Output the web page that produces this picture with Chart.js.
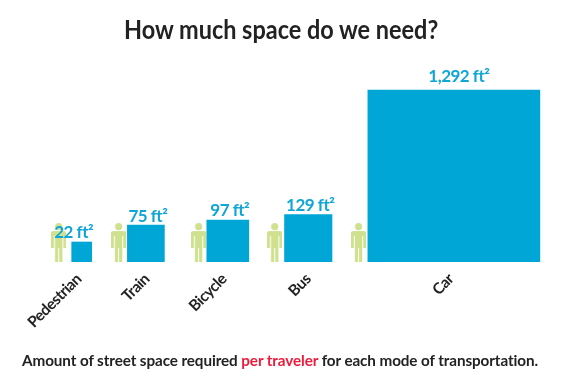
<!DOCTYPE html>
<html>
<head>
<meta charset="utf-8">
<script src="https://cdn.jsdelivr.net/npm/chart.js@4"></script>
<style>
body { margin: 0; background: #fff; }
#wrap { position: relative; width: 570px; height: 381px; overflow: hidden; }
canvas { display: block; }
#title {
    position: absolute; left: 124px; top: 14px; white-space: nowrap; transform-origin: left top; transform: scaleX(0.902);
    font: bold 26px/31px Lato, sans-serif; color: #222;
}
#caption {
    position: absolute; left: 22px; top: 350px; white-space: nowrap; transform-origin: left top; transform: scaleX(0.953);
    font: bold 16px Lato, sans-serif; letter-spacing: -0.1px; color: #222;
}
#caption span { color: #ee1c3a; }
</style>
</head>
<body>
<div id="wrap">
<canvas id="chart" width="570" height="381"></canvas>
<div id="title">How much space do we need?</div>
<div id="caption">Amount of street space required <span>per traveler</span> for each mode of transportation.</div>
</div>
<script>
// values
const categories = ["Pedestrian", "Train", "Bicycle", "Bus", "Car"];
const areas = [22, 75, 97, 129, 1292];          // ft2, what the labels say
const sides = [4.18, 7.73, 8.78, 9.92, 35.94];  // side of each square, ft
const centers = [17.1, 30.5, 47.6, 64.4, 94.8];
const people = [12.3, 24.8, 41.5, 57.4, 74.9];
const tickAt = [16.5, 30.7, 46.8, 64.4, 94.2];  // labels don't sit quite under the bars

const pxPerFt = 4.786;   // x and y use the same unit so squares stay square
const barBlue = "#00a6d6";

// little person marker
const person = document.createElement("canvas");
person.width = 15;
person.height = 39;
const p = person.getContext("2d");
p.fillStyle = "#cfe08f";
p.beginPath();
p.arc(7.5, 3.6, 3.6, 0, Math.PI * 2);
p.fill();
p.beginPath();
p.roundRect(0, 8, 15, 5, 2);
p.fill();
p.fillRect(0, 10, 2.8, 15);
p.fillRect(12.2, 10, 2.8, 15);
p.fillRect(3.8, 10, 7.4, 15);
p.fillRect(3.8, 25, 3.2, 14);
p.fillRect(8, 25, 3.2, 14);

const labelShiftX = [-8, 2, 2, 2, 5];
const labelGap = [4, 3, 4, 4, 8];

const valueLabels = {
    id: "valueLabels",
    beforeDraw(chart) {
        chart.ctx.letterSpacing = "-0.5px";  // the original type is condensed
    },
    afterDatasetsDraw(chart) {
        const ctx = chart.ctx;
        ctx.save();
        ctx.font = "bold 17px Lato, sans-serif";
        ctx.fillStyle = "#0fa5d5";
        ctx.textAlign = "center";
        ctx.textBaseline = "alphabetic";
        areas.forEach(function(area, i) {
            const bar = chart.getDatasetMeta(i).data[0];
            ctx.fillText(area.toLocaleString("en-US") + " ft²", bar.x + labelShiftX[i], bar.y - labelGap[i]);
        });
        ctx.restore();
    }
};

let datasets = [];
for (let i = 0; i < categories.length; i++) {
    datasets.push({
        label: categories[i],
        data: [{ x: centers[i], y: sides[i] }],
        backgroundColor: barBlue,
        barThickness: sides[i] * pxPerFt,
        grouped: false,
        order: 1
    });
}
datasets.push({
    type: "scatter",
    label: "Traveler",
    data: people.map(x => ({ x: x, y: 4.07 })),
    pointStyle: person,
    order: 2
});

new Chart(document.getElementById("chart"), {
    type: "bar",
    data: { datasets: datasets },
    plugins: [valueLabels],
    options: {
        responsive: false,
        animation: false,
        layout: { padding: 0 },
        plugins: {
            legend: { display: false },
            tooltip: { enabled: false }
        },
        scales: {
            x: {
                type: "linear",
                offset: false,
                // chart area is inset about 5px each side, keep 4.786 px per ft
                min: 1.087,
                max: 118.0,
                grid: { display: false },
                border: { display: false },
                afterBuildTicks(scale) {
                    scale.ticks = tickAt.map(c => ({ value: c }));
                },
                afterFit(scale) {
                    scale.height = 119;
                    scale.paddingLeft = 0;
                    scale.paddingRight = 0;
                },
                ticks: {
                    autoSkip: false,
                    minRotation: 45,
                    maxRotation: 45,
                    padding: 0,
                    color: "#222",
                    font: { family: "Lato, sans-serif", size: 15.5, weight: "bold" },
                    callback: function(value, index) { return categories[index]; }
                }
            },
            y: {
                display: false,
                min: 0,
                max: 53.7
            }
        }
    }
});
</script>
</body>
</html>
